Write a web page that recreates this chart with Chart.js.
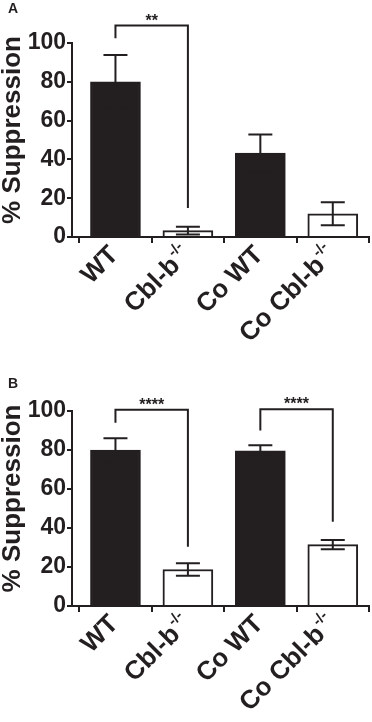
<!DOCTYPE html>
<html><head><meta charset="utf-8">
<script src="https://cdn.jsdelivr.net/npm/chart.js@4/dist/chart.umd.min.js"></script>
<style>
html,body{margin:0;padding:0;background:#fff;}
#wrap{position:relative;width:372px;height:722px;overflow:hidden;background:#fff;}
canvas{position:absolute;left:0;}
#ca{top:0}
#cb{top:361px}
.pl{position:absolute;left:8px;font:bold 14px "Liberation Sans",Arial,sans-serif;line-height:16px;color:#231f20}
</style></head><body>
<div id="wrap">
<canvas id="ca" width="372" height="361"></canvas>
<canvas id="cb" width="372" height="361"></canvas>
<div class="pl" style="top:0">A</div>
<div class="pl" style="top:375px">B</div>
</div>
<script>
// ---- data ----
const categories = ['WT', 'Cbl-b', 'Co WT', 'Co Cbl-b'];
const superscripts = ['', '-/-', '', '-/-'];
const yTicks = [0, 20, 40, 60, 80, 100];
const yTitle = '% Suppression';
const valuesA = [80, 3.3, 43.3, 12];
const errorsA = [13.8, 2, 9.5, 5.9];
const valuesB = [80, 18.7, 79.6, 31.5];
const errorsB = [6, 3.2, 2.8, 2.4];
// significance brackets: [fromIndex, toIndex, bracketLevel, leftLegEnd, rightLegEnd, label]
const bracketsA = [[0, 1, 109, 102.5, 15, '**']];
const bracketsB = [[0, 1, 100.7, 94, 30.4, '****'], [2, 3, 100.9, 90, 43.2, '****']];

// ---- styles ----
const INK = '#231f20';
const FONT = '"Liberation Sans", Arial, Helvetica, sans-serif';
const fills = [INK, '#ffffff', INK, '#ffffff'];

const extras = {
  id: 'extras',
  afterDatasetsDraw(chart, args, opts) {
    const ctx = chart.ctx, xs = chart.scales.x, ys = chart.scales.y, ca = chart.chartArea;
    ctx.save();
    ctx.strokeStyle = INK; ctx.fillStyle = INK; ctx.lineWidth = 2; ctx.lineCap = 'butt';
    opts.values.forEach((v, i) => {
      const x = xs.getPixelForValue(i);
      const yt = ys.getPixelForValue(v + opts.errors[i]);
      const yb = ys.getPixelForValue(Math.max(0, v - opts.errors[i]));
      ctx.beginPath();
      ctx.moveTo(x, yt); ctx.lineTo(x, yb);
      ctx.moveTo(x - opts.cap, yt); ctx.lineTo(x + opts.cap, yt);
      ctx.moveTo(x - opts.cap, yb); ctx.lineTo(x + opts.cap, yb);
      ctx.stroke();
    });
    opts.brackets.forEach(([a, b, lv, l, r, label]) => {
      const x1 = xs.getPixelForValue(a), x2 = xs.getPixelForValue(b), y = ys.getPixelForValue(lv);
      ctx.beginPath();
      ctx.moveTo(x1, ys.getPixelForValue(l)); ctx.lineTo(x1, y); ctx.lineTo(x2, y); ctx.lineTo(x2, ys.getPixelForValue(r));
      ctx.stroke();
      ctx.font = 'bold 16px ' + FONT; ctx.textAlign = 'center'; ctx.textBaseline = 'alphabetic';
      ctx.fillText(label, (x1 + x2) / 2, y);
    });
    // category labels (rotated, with superscript)
    const axisY = xs.top;
    categories.forEach((c, i) => {
      const x = xs.getPixelForValue(i);
      ctx.save();
      ctx.translate(x + opts.lx, axisY + opts.ly);
      ctx.rotate(-Math.PI / 4);
      ctx.font = 'bold 26px ' + FONT; const mw = ctx.measureText(c).width;
      ctx.font = 'bold 15px ' + FONT; const sw = superscripts[i] ? ctx.measureText(superscripts[i]).width + 1 : 0;
      ctx.textBaseline = 'middle'; ctx.textAlign = 'left';
      ctx.font = 'bold 26px ' + FONT; ctx.fillText(c, -(mw + sw), 0);
      if (sw) { ctx.font = 'bold 15px ' + FONT; ctx.fillText(superscripts[i], -sw + 1, -9); }
      ctx.restore();
    });
    // y title
    ctx.save();
    ctx.translate(opts.titleX, (ca.top + ca.bottom) / 2 + opts.titleDy);
    ctx.rotate(-Math.PI / 2);
    ctx.font = 'bold 26px ' + FONT; ctx.textAlign = 'center'; ctx.textBaseline = 'middle';
    ctx.fillText(yTitle, 0, 0);
    ctx.restore();
    ctx.restore();
  }
};

function makeChart(id, values, errors, brackets, padTop, xHeight) {
  return new Chart(document.getElementById(id), {
    type: 'bar',
    data: { datasets: [{
      data: values.map((v, i) => ({ x: i, y: v })),
      backgroundColor: fills, borderColor: INK, borderWidth: 2, borderSkipped: 'start', barThickness: 50
    }] },
    options: {
      responsive: false, animation: false, devicePixelRatio: 1,
      layout: { padding: { top: padTop, right: 3, left: 0, bottom: 0 } },
      plugins: {
        legend: { display: false }, tooltip: { enabled: false },
        extras: { values, errors, brackets, cap: 12, lx: -1, ly: 14, titleX: 13, titleDy: -10 }
      },
      scales: {
        x: {
          type: 'linear', min: -0.6, max: 3.5, offset: false,
          afterBuildTicks: s => { s.ticks = categories.map((c, i) => ({ value: i })); },
          ticks: { display: false },
          grid: { drawOnChartArea: false, drawTicks: true, tickLength: 6, lineWidth: 2, color: INK },
          border: { display: true, color: INK, width: 2 },
          afterFit: s => { s.height = xHeight; }
        },
        y: {
          min: 0, max: 100,
          afterBuildTicks: s => { s.ticks = yTicks.map(v => ({ value: v })); },
          ticks: { font: { family: FONT, size: 23, weight: 'bold' }, color: INK, padding: 1 },
          grid: { drawOnChartArea: false, drawTicks: true, tickLength: 5, lineWidth: 2, color: INK },
          border: { display: true, color: INK, width: 2 },
          afterFit: s => { s.width = 72; }
        }
      }
    },
    plugins: [extras]
  });
}
makeChart('ca', valuesA, errorsA, bracketsA, 43, 124);
makeChart('cb', valuesB, errorsB, bracketsB, 50, 116);
</script>
</body></html>
